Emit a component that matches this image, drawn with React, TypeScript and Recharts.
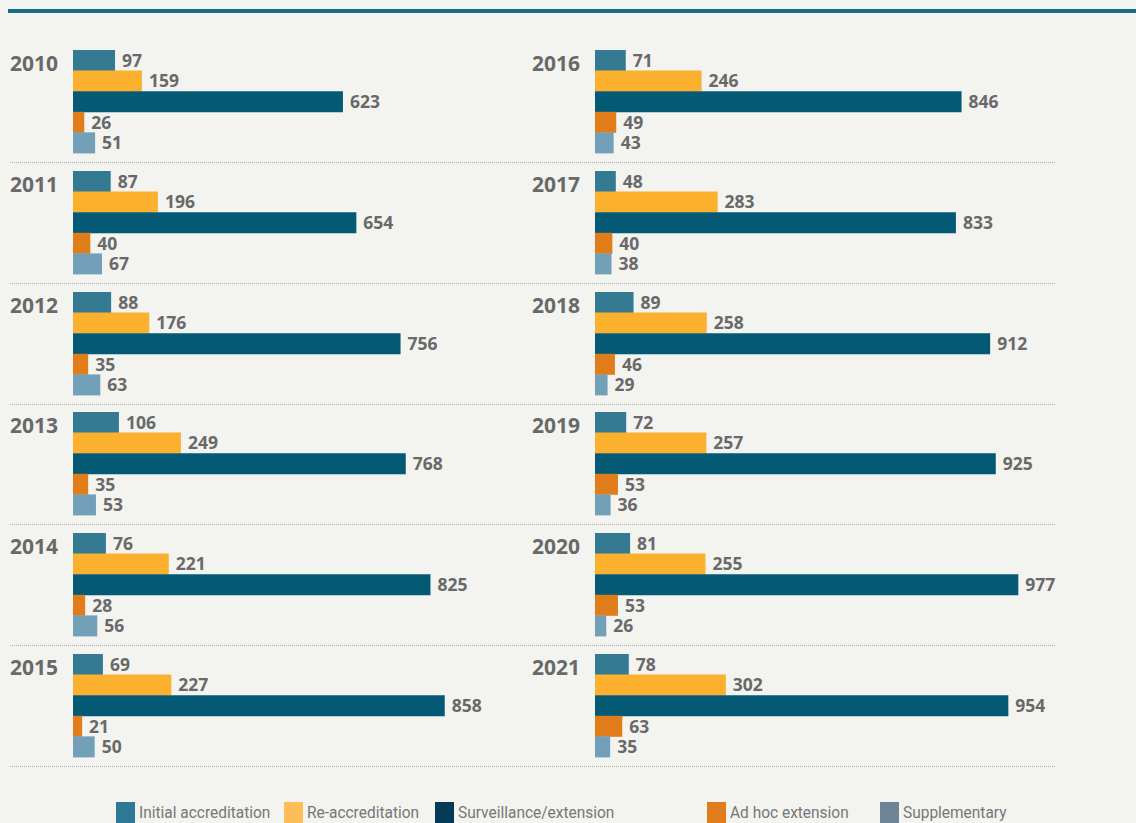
import React from 'react';
import { BarChart, Bar, XAxis, YAxis, Cell, LabelList } from 'recharts';

const years = ['2010', '2011', '2012', '2013', '2014', '2015', '2016', '2017', '2018', '2019', '2020', '2021'];
const seriesNames = ['Initial accreditation', 'Re-accreditation', 'Surveillance/extension', 'Ad hoc extension', 'Supplementary'];

const initial = [97, 87, 88, 106, 76, 69, 71, 48, 89, 72, 81, 78];
const reaccreditation = [159, 196, 176, 249, 221, 227, 246, 283, 258, 257, 255, 302];
const surveillance = [623, 654, 756, 768, 825, 858, 846, 833, 912, 925, 977, 954];
const adHoc = [26, 40, 35, 35, 28, 21, 49, 40, 46, 53, 53, 63];
const supplementary = [51, 67, 63, 53, 56, 50, 43, 38, 29, 36, 26, 35];

const barColors = ['#347a93', '#fbb02e', '#045a74', '#e07d1a', '#72a0b9'];
const legendColors = ['#2e7a96', '#fdbe58', '#033a55', '#e07d1a', '#6e8599'];

const allSeries = [initial, reaccreditation, surveillance, adHoc, supplementary];

const CHART_W = 500;
const PAD = 5;
const BARS_H = 103;
const X_MAX = 1154;
const GROUP_TOP = 50;
const GROUP_STEP = 120.8;

const textGray = '#696969';

const YearChart = ({ index }: { index: number }) => {
  const data = seriesNames.map((name, s) => ({ name, value: allSeries[s][index] }));
  return (
    <BarChart
      width={CHART_W}
      height={BARS_H + PAD * 2}
      data={data}
      layout="vertical"
      margin={{ top: PAD, right: 0, bottom: PAD, left: 0 }}
      barCategoryGap={0}
    >
      <XAxis type="number" domain={[0, X_MAX]} hide />
      <YAxis type="category" dataKey="name" hide />
      <Bar dataKey="value" isAnimationActive={false}>
        {data.map((d, s) => (
          <Cell key={d.name} fill={barColors[s]} />
        ))}
        <LabelList
          dataKey="value"
          position="right"
          offset={7}
          fill={textGray}
          style={{ fontFamily: '"Open Sans", sans-serif', fontWeight: 700, fontSize: 17.5 }}
        />
      </Bar>
    </BarChart>
  );
};

const legendPos = [116, 284, 435, 707, 880];

export default function App() {
  return (
    <div
      style={{
        position: 'absolute',
        left: 0,
        top: 0,
        width: 1136,
        height: 823,
        background: '#f3f3ef',
        overflow: 'hidden',
        fontFamily: '"Open Sans", sans-serif',
      }}
    >
      <div style={{ position: 'absolute', left: 8, top: 9, width: 1128, height: 4, background: '#1b6a85' }} />
      {years.map((y, i) => {
        const col = i < 6 ? 0 : 1;
        const row = i % 6;
        const top = GROUP_TOP + row * GROUP_STEP;
        const barLeft = col === 0 ? 73 : 595;
        const labelLeft = col === 0 ? 10 : 532;
        return (
          <React.Fragment key={y}>
            <div
              style={{
                position: 'absolute',
                left: labelLeft,
                top: top - 1,
                fontSize: 21,
                fontWeight: 700,
                color: textGray,
                lineHeight: '28px',
              }}
            >
              {y}
            </div>
            <div style={{ position: 'absolute', left: barLeft, top: top - PAD }}>
              <YearChart index={i} />
            </div>
          </React.Fragment>
        );
      })}
      {[0, 1, 2, 3, 4, 5].map((r) => (
        <div
          key={r}
          style={{
            position: 'absolute',
            left: 10,
            top: Math.round(GROUP_TOP + r * GROUP_STEP + 112),
            width: 1045,
            height: 0,
            borderTop: '1.5px dotted #b0b0b0',
          }}
        />
      ))}
      {seriesNames.map((name, s) => (
        <div key={name} style={{ position: 'absolute', left: legendPos[s], top: 802, display: 'flex', alignItems: 'flex-start' }}>
          <div style={{ width: 19, height: 21, background: legendColors[s] }} />
          <div
            style={{
              marginLeft: 4,
              fontFamily: 'Roboto, sans-serif',
              fontSize: 17,
              color: '#777',
              lineHeight: '21px',
              whiteSpace: 'nowrap',
              transform: 'scaleX(0.91)',
              transformOrigin: 'left center',
            }}
          >
            {name}
          </div>
        </div>
      ))}
    </div>
  );
}
